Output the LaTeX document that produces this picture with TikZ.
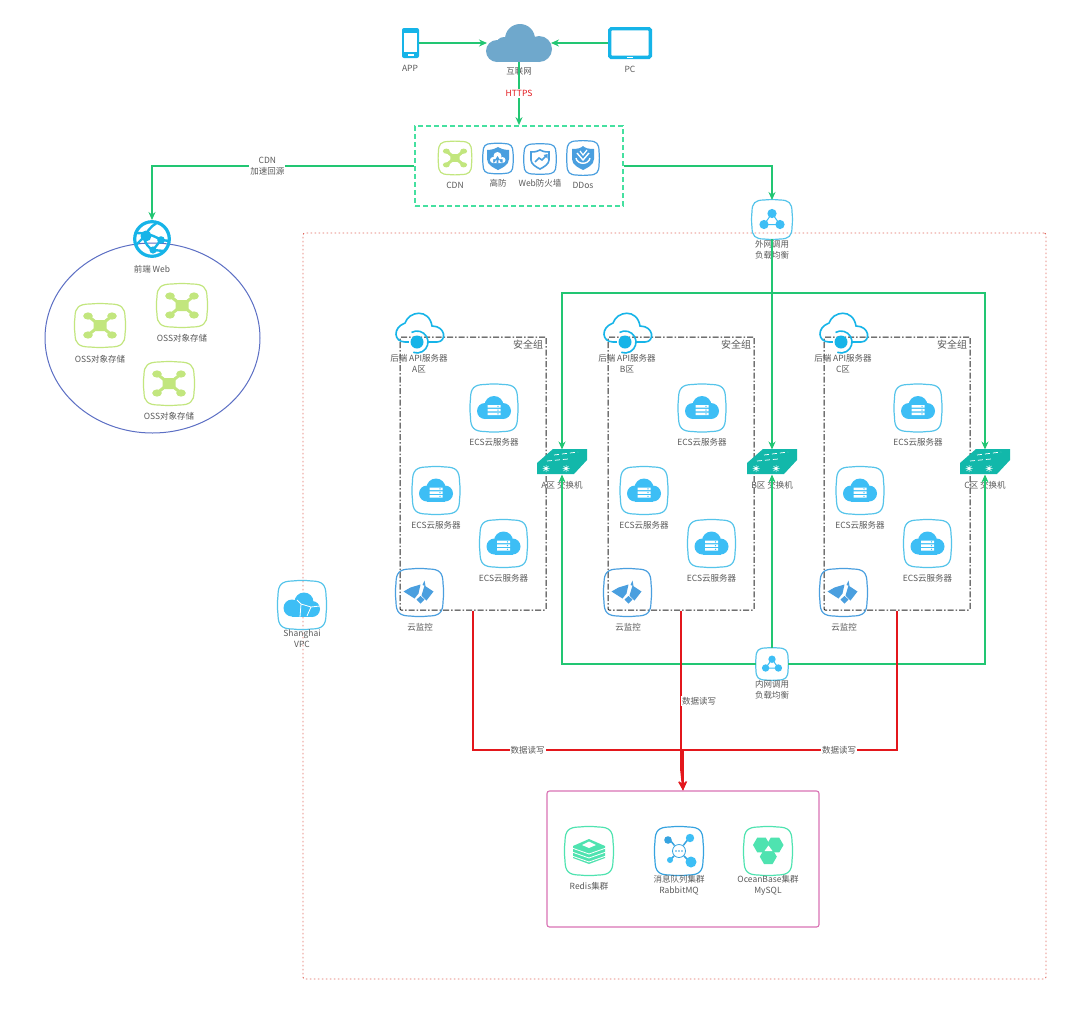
\documentclass[tikz,border=0pt]{standalone}
\usepackage{fontspec}
\setmainfont{Noto Sans CJK SC}
\usetikzlibrary{arrows.meta,calc,shapes.geometric}
\definecolor{flowgreen}{HTML}{22C673}
\definecolor{dashgreen}{HTML}{45E0A0}
\definecolor{datared}{HTML}{E3171C}
\definecolor{txt}{HTML}{5A5A5A}
\definecolor{sky}{HTML}{3DBEF5}
\definecolor{skyline}{HTML}{55C4EA}
\definecolor{lime}{HTML}{C2E67E}
\definecolor{shield}{HTML}{4A9FDF}
\definecolor{teal}{HTML}{12B8AA}
\definecolor{mint}{HTML}{4FE3B0}
\definecolor{pinkbox}{HTML}{D973B5}
\definecolor{bluering}{HTML}{5C6FC4}
\definecolor{dotred}{HTML}{E0665C}
\definecolor{cloudblue}{HTML}{6FA8CC}
\definecolor{cyanic}{HTML}{16B4E8}
\definecolor{mqblue}{HTML}{36A3E0}
\tikzset{
  lab/.style={text=txt,font=\fontsize{8.5}{11}\selectfont,align=center,inner sep=0pt},
  linklab/.style={lab,fill=white,inner sep=1pt},
  iconnode/.style={inner sep=0pt,outer sep=0pt,draw=none},
  flow/.style={draw=flowgreen,line width=1.7pt,-{Stealth[length=8pt,width=7pt]}},
  flowboth/.style={draw=flowgreen,line width=1.7pt,{Stealth[length=8pt,width=7pt]}-{Stealth[length=8pt,width=7pt]}},
  data/.style={draw=datared,line width=1.6pt},
  dataarrow/.style={data,-{Stealth[length=9pt,width=8pt]}},
  zonebox/.style={draw=black!85,line width=1pt,dash pattern=on 6pt off 2pt on 1.5pt off 2pt,minimum width=146pt,minimum height=273pt,inner sep=0pt,rounded corners=1pt},
}
% squircle frame with a named node
\newcommand\sqframe[6]{%
  \node[iconnode,minimum width=#4pt,minimum height=#5pt] (#1) at (#2,#3) {};
  \begin{scope}[shift={(#2,#3)},xscale=#4,yscale=#5]
    \draw[#6,line width=1.2pt] (-.5,-.2) .. controls (-.5,-.42) and (-.42,-.5) .. (-.2,-.5)
      .. controls (-.07,-.515) and (.07,-.515) .. (.2,-.5)
      .. controls (.42,-.5) and (.5,-.42) .. (.5,-.2)
      .. controls (.515,-.07) and (.515,.07) .. (.5,.2)
      .. controls (.5,.42) and (.42,.5) .. (.2,.5)
      .. controls (.07,.515) and (-.07,.515) .. (-.2,.5)
      .. controls (-.42,.5) and (-.5,.42) .. (-.5,.2)
      .. controls (-.515,.07) and (-.515,-.07) .. (-.5,-.2) -- cycle;
  \end{scope}}
\newcommand\ghub[3]{\begin{scope}[shift={(#1,#2)},scale=#3]
  \draw[lime,line width=3pt] (-12,-9.5) -- (12,9.5) (12,-9.5) -- (-12,9.5);
  \fill[lime,rounded corners=2pt] (-6.5,-5.5) rectangle (6.5,5.5);
  \foreach \a/\b in {-12/-9.5,12/-9.5,-12/9.5,12/9.5}{\fill[lime] (\a,\b) ellipse (4.8 and 3.6);}
  \end{scope}}
\newcommand\gecs[3]{\begin{scope}[shift={(#1,#2)},scale=#3]
  \fill[sky] (0,-2.5) circle (9.5) (-9,3) circle (8) (9,3) circle (8);
  \fill[sky] (-9,0) rectangle (9,11);
  \fill[white] (-6.5,-3) rectangle (6.5,-.4) (-6.5,.8) rectangle (6.5,3.4) (-6.5,4.6) rectangle (6.5,7.2);
  \fill[sky] (4,-1.7) circle (.7) (4,2.1) circle (.7) (4,5.9) circle (.7);
  \end{scope}}
\newcommand\glb[3]{\begin{scope}[shift={(#1,#2)},scale=#3]
  \draw[sky,line width=1pt] (0,-6) -- (-8,5) -- (8,5) -- cycle;
  \fill[sky] (0,-6) circle (4.6) (-8,5) circle (4.6) (8,5) circle (4.6);
  \end{scope}}
\newcommand\gmon[2]{\begin{scope}[shift={(#1,#2)}]
  \fill[shield] (-16,-1) -- (-9,-5) -- (1,-8) -- (-1,1) -- (-5,6) -- cycle;
  \fill[shield] (5,-7) -- (14,-1) -- (7,8) -- (2,3) -- cycle;
  \fill[shield] (5,-12) -- (6,-6.5) -- (3,-7.5) -- cycle;
  \fill[shield] (1,3.5) -- (5,7) -- (1,11) -- (-3,7) -- cycle;
  \end{scope}}
\newcommand\gswitch[3]{%
  \node[iconnode,minimum width=50pt,minimum height=25pt] (#1) at (#2,#3) {};
  \begin{scope}[shift={(#2,#3)}]
  \fill[teal] (-25,1) -- (-9,-13) -- (25,-13) -- (25,-2) -- (12,12) -- (-25,12) -- cycle;
  \draw[white,line width=.7pt,dash pattern=on 5pt off 3pt] (-8,-7) -- (16,-10) (-15,-1) -- (6,-3);
  \foreach \sx in {-16,4}{
    \fill[white] (\sx,6.5) circle (1.7);
    \draw[white,line width=.5pt] (\sx-3.5,6.5) -- (\sx+3.5,6.5) (\sx,3) -- (\sx,10) (\sx-2.5,4) -- (\sx+2.5,9) (\sx-2.5,9) -- (\sx+2.5,4);}
  \end{scope}}
\begin{document}
\begin{tikzpicture}[x=1pt,y=-1pt]
\useasboundingbox (0,0) rectangle (1080,1010);
\fill[white] (0,0) rectangle (1080,1010);

% large containers
\node[draw=dotred,line width=.9pt,dash pattern=on 1.5pt off 2.5pt,rounded corners=2pt,minimum width=743pt,minimum height=746pt,inner sep=0pt] (vpcbox) at (674.5,606) {};
\node[draw=bluering,line width=1pt,ellipse,minimum width=215pt,minimum height=190pt,inner sep=0pt] (osscircle) at (152.5,338) {};
\node[draw=dashgreen,line width=1.7pt,dash pattern=on 5pt off 3pt,minimum width=208pt,minimum height=80pt,inner sep=0pt] (cdnbox) at (519,166) {};
\node[draw=pinkbox,line width=1.1pt,rounded corners=2.5pt,minimum width=272pt,minimum height=136pt,inner sep=0pt] (dbbox) at (683,859) {};

% phone
\node[iconnode,minimum width=17pt,minimum height=30pt] (app) at (410.5,43) {};
\fill[cyanic,rounded corners=2pt] (402,28) rectangle (419,58);
\fill[white] (404,33) rectangle (417,52);
\fill[white] (407.5,53.5) rectangle (413.5,55.5);
\node[lab] (applab) at (410,68) {APP};
% tablet
\node[iconnode,minimum width=44pt,minimum height=32pt] (pc) at (630,43) {};
\draw[cyanic,line width=3.4pt,rounded corners=1.5pt] (609.7,28.7) rectangle (650.3,57.3);
\draw[white,line width=1.2pt] (627,57.5) -- (633,57.5);
\node[lab] (pclab) at (630,69) {PC};
% internet cloud
\node[iconnode,minimum width=64pt,minimum height=38pt] (cloud) at (519,43) {};
\begin{scope}[shift={(519,43)}]
  \fill[cloudblue] (1,-4) circle (15) (-22,8) circle (11) (20,6) circle (13) (-15,2) circle (8);
  \fill[cloudblue] (-22,5) rectangle (20,19);
\end{scope}
\node[lab] (cloudlab) at (519,71) {互联网};

% CDN row
\sqframe{cdn}{455}{158}{33}{33}{lime}
\ghub{455}{158}{.72}
\node[lab] (cdnlab) at (455,185) {CDN};
\sqframe{gaofang}{498}{158.5}{30}{30}{shield}
\begin{scope}[shift={(498,158)}]
  \fill[shield] (-11,-8) .. controls (-5,-8) and (-2,-10) .. (0,-11) .. controls (2,-10) and (5,-8) .. (11,-8) -- (11,1) .. controls (11,7) and (4,10) .. (0,12) .. controls (-4,10) and (-11,7) .. (-11,1) -- cycle;
  \fill[white] (-.5,-2) circle (4) (-5,2) circle (3) (4.5,2) circle (3) (-5,1) rectangle (4.5,5);
  \fill[shield] (-.5,-2) -- (2,2) -- (.4,2) -- (.4,5) -- (-1.4,5) -- (-1.4,2) -- (-3,2) -- cycle;
\end{scope}
\node[lab] (gflab) at (498,183) {高防};
\sqframe{waf}{540}{159}{32}{30}{shield}
\begin{scope}[shift={(540,159)}]
  \draw[shield,line width=1.6pt] (-9,-7) .. controls (-4,-7) and (-2,-8) .. (0,-9) .. controls (2,-8) and (4,-7) .. (9,-7) -- (9,1) .. controls (9,5) and (4,8) .. (0,10) .. controls (-4,8) and (-9,5) .. (-9,1) -- cycle;
  \draw[shield,line width=1.6pt] (-5,3) -- (-1,-1) -- (2,1) -- (6,-3);
  \fill[shield] (7.5,-5) -- (7.5,-.5) -- (3.5,-4) -- cycle;
\end{scope}
\node[lab] (waflab) at (540,183) {Web防火墙};
\sqframe{ddos}{583}{158}{32}{34}{shield}
\begin{scope}[shift={(583,158)}]
  \fill[shield] (-11,-9) .. controls (-5,-9) and (-2,-10) .. (0,-12) .. controls (2,-10) and (5,-9) .. (11,-9) -- (11,1) .. controls (11,7) and (4,10) .. (0,12) .. controls (-4,10) and (-11,7) .. (-11,1) -- cycle;
  \draw[white,line width=1.4pt] (-6,-5) -- (0,2) -- (6,-5);
  \draw[white,line width=1.4pt] (-7,0) .. controls (-6,7) and (6,7) .. (7,0);
  \draw[white,line width=1.2pt] (-3,-7) -- (0,-3) -- (4,-8);
\end{scope}
\node[lab] (ddoslab) at (583,185) {DDos};

% front web globe
\node[iconnode,minimum width=38pt,minimum height=38pt] (web) at (152,239) {};
\begin{scope}[shift={(152,239)}]
  \begin{scope}
  \clip (0,0) circle (18.5);
  \draw[cyanic,line width=2.4pt] (-6,-4) .. controls (-3,-12) and (3,-15) .. (8,-18);
  \draw[cyanic,line width=2.4pt] (-18,-6) .. controls (-10,-6) and (-2,-6) .. (9,1) -- (18,2);
  \draw[cyanic,line width=2.4pt] (-8,-2) .. controls (-7,5) and (-3,9) .. (1,11) -- (9,1);
  \draw[cyanic,line width=2.4pt] (-16,6) -- (-8,-2);
  \draw[cyanic,line width=2.4pt] (1,11) -- (12,12);
  \fill[cyanic] (-6,-3) circle (5.5) (9,1) circle (3.8) (1,11) circle (3.6);
  \end{scope}
  \draw[cyanic,line width=3.2pt] (0,0) circle (17.3);
\end{scope}
\node[lab] (weblab) at (152,269) {前端 Web};

% OSS
\sqframe{ossa}{100}{325.5}{50}{43}{lime}
\ghub{100}{325.5}{1}
\node[lab] (ossalab) at (100,359) {OSS对象存储};
\sqframe{ossb}{182}{305.5}{50}{43}{lime}
\ghub{182}{305.5}{1}
\node[lab] (ossblab) at (182,338) {OSS对象存储};
\sqframe{ossc}{169}{383.5}{50}{43}{lime}
\ghub{169}{383.5}{1}
\node[lab] (ossclab) at (169,416) {OSS对象存储};

% VPC
\sqframe{vpc}{302}{605}{48}{48}{skyline}
\begin{scope}[shift={(302,605)}]
  \fill[sky] (2,-3) circle (9.5) (-10,3) circle (8.5) (10,4) circle (8);
  \fill[sky] (-10,2) rectangle (10,12);
  \draw[white,line width=.8pt] (-5,-5) -- (-1,-1) -- (9,2) -- (5,11) (-1,-1) -- (-2,12) (9,2) -- (18,1);
\end{scope}
\node[lab] (vpclab) at (302,639) {Shanghai\\VPC};

% three zones
\foreach \z/\dx in {A/0,B/208,C/424}{
  \node[zonebox] (box\z) at ({473+\dx},473.5) {};
  \node[lab,font=\fontsize{10}{12}\selectfont] (sec\z) at ({528+\dx},345) {安全组};
  \node[iconnode,minimum width=50pt,minimum height=40pt] (api\z) at ({419+\dx},332) {};
  \begin{scope}[shift={({419+\dx},332)}]
    \draw[cyanic,line width=1.6pt] (-14,10) .. controls (-25,10) and (-27,-4) .. (-14,-9) .. controls (-10,-21) and (10,-24) .. (13,-6) .. controls (27,-6) and (28,10) .. (18,10) -- (8,10);
    \draw[cyanic,line width=1.6pt] (-14,10) -- (-10,10);
    \fill[cyanic] (-2,10) circle (6.5);
    \draw[cyanic,line width=1.6pt] (-2,10) ++(-120:11) arc (-120:110:11);
  \end{scope}
  \node[lab] (apilab\z) at ({419+\dx},364) {后端 API服务器\\\z 区};
  \sqframe{ecs1\z}{{494+\dx}}{408}{47}{47}{skyline}
  \gecs{{494+\dx}}{408}{1}
  \node[lab] (ecs1lab\z) at ({494+\dx},442) {ECS云服务器};
  \sqframe{ecs2\z}{{436+\dx}}{490.5}{47}{47}{skyline}
  \gecs{{436+\dx}}{490.5}{1}
  \node[lab] (ecs2lab\z) at ({436+\dx},525) {ECS云服务器};
  \sqframe{ecs3\z}{{503.5+\dx}}{543.5}{47}{47}{skyline}
  \gecs{{503.5+\dx}}{543.5}{1}
  \node[lab] (ecs3lab\z) at ({503.5+\dx},578) {ECS云服务器};
  \sqframe{mon\z}{{419.5+\dx}}{592.5}{47}{47}{shield}
  \gmon{{419.5+\dx}}{592.5}
  \node[lab] (monlab\z) at ({420+\dx},627) {云监控};
}

% switches
\gswitch{swA}{562}{462}
\gswitch{swB}{772}{462}
\gswitch{swC}{985}{462}
\node[lab] (swlabA) at (562,485) {A区 交换机};
\node[lab] (swlabB) at (772,485) {B区 交换机};
\node[lab] (swlabC) at (985,485) {C区 交换机};

% load balancers
\sqframe{lbout}{772}{219.5}{40}{39}{skyline}
\glb{772}{219.5}{1}
\node[lab] (lboutlab) at (772,250) {外网调用\\负载均衡};
\sqframe{lbin}{772}{664}{32}{32}{skyline}
\glb{772}{664}{.8}
\node[lab] (lbinlab) at (772,689.5) {内网调用\\负载均衡};

% database row
\sqframe{redis}{589}{851}{48}{48}{mint}
\begin{scope}[shift={(589,851)}]
  \fill[mint] (0,-12) -- (16,-5) -- (16,7) -- (0,13) -- (-16,7) -- (-16,-5) -- cycle;
  \foreach \ly in {0,4,8}{
    \draw[white,line width=.8pt] (-17,\ly-3) -- (0,\ly+3) -- (17,\ly-3);}
  \fill[white] (-7,-6) -- (0,-9.5) -- (7,-6) -- (0,-3) -- cycle;
\end{scope}
\node[lab] (redislab) at (589,886) {Redis集群};
\sqframe{mq}{679}{851}{48}{48}{mqblue}
\begin{scope}[shift={(679,851)}]
  \draw[mqblue,line width=1.5pt] (-9,-11) -- (0,0) (10,-13) -- (0,0) (-9,9) -- (0,0) (11,11) -- (0,0);
  \fill[mqblue] (-11,-11) circle (3.8);
  \fill[sky] (11,-13) circle (4.2) (-9,9) circle (3) (12,11) circle (5.5);
  \fill[white] (0,0) circle (7);
  \draw[mqblue,line width=.8pt] (0,0) circle (6.5);
  \fill[mqblue] (-3,0) circle (.9) (0,0) circle (.9) (3,0) circle (.9);
\end{scope}
\node[lab] (mqlab) at (679,885.5) {消息队列集群\\RabbitMQ};
\sqframe{ob}{768}{851}{48}{48}{mint}
\begin{scope}[shift={(768,851)}]
  \foreach \hx/\hy in {-6.5/-6,7/-6,0.3/5.7}{
    \node[iconnode,fill=mint,regular polygon,regular polygon sides=6,minimum size=17pt] at (\hx,\hy) {};}
  \fill[white] (.5,-5.5) -- (4.5,0) -- (-3.5,0) -- cycle;
\end{scope}
\node[lab] (oblab) at (768,885.5) {OceanBase集群\\MySQL};

% green connectors
\draw[flow] (app.east) -- (cloud.west);
\draw[flow] (pc.west) -- (cloud.east);
\draw[flow] (cloud.south) -- node[linklab,text=datared,pos=.5] (https) {HTTPS} (cdnbox.north);
\draw[flow] (cdnbox.west) -| node[linklab,pos=.28,yshift=-.5pt] (cdnlink) {CDN\\加速回源} (web.north);
\draw[flow] (cdnbox.east) -| (lbout.north);
\draw[flow] (lbout.south) -- (swB.north);
\coordinate (topbar) at (0,293);
\draw[flowboth] (swA.north) -- (swA.north |- topbar) -- (swC.north |- topbar) -- (swC.north);
\draw[flow] (lbin.west) -| (swA.south);
\draw[flow] (lbin.east) -| (swC.south);
\draw[flow] (lbin.north) -- (swB.south);

% red connectors
\coordinate (jct) at (683,750);
\coordinate (thick) at (681.5,770);
\draw[dataarrow] (boxA.south) |- (jct) -- (dbbox.north);
\draw[dataarrow] (boxC.south) |- (jct) -- (dbbox.north);
\draw[data] (boxB.south) -- (boxB.south |- thick) -- (thick);
\draw[dataarrow] (boxB.south |- thick) -- (dbbox.north);
\path (boxB.south) -- (boxB.south |- jct) node[linklab,anchor=west,inner sep=1pt,pos=.65] (readB) {数据读写};
\path (boxA.south |- jct) -- (jct) node[linklab,pos=.26] (readA) {数据读写};
\path (boxC.south |- jct) -- (jct) node[linklab,pos=.27] (readC) {数据读写};
\end{tikzpicture}
\end{document}
